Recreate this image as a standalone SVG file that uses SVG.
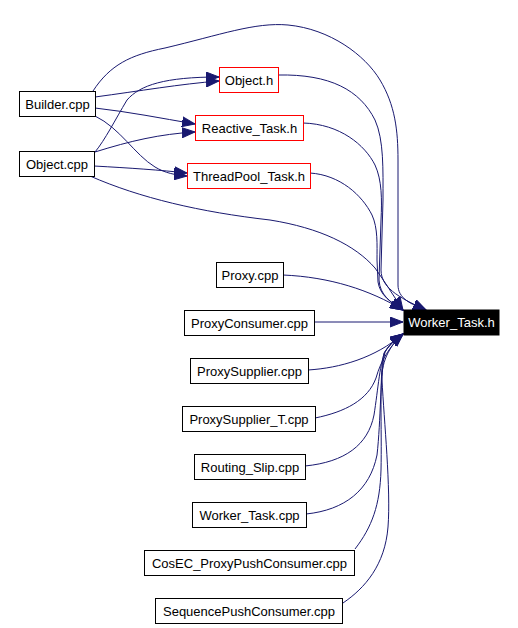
<svg xmlns="http://www.w3.org/2000/svg" width="518" height="628" viewBox="0 0 518 628">
<style>
  .n rect { fill: #ffffff; stroke: #000000; stroke-width: 1; }
  .n.red rect { stroke: #ff0000; }
  .n text { font-family: "Liberation Sans", Arial, sans-serif; font-size: 13px; fill: #000000; text-anchor: middle; }
  .n.main rect { fill: #000000; stroke: #000000; }
  .n.main text { fill: #ffffff; }
  .e path { fill: none; stroke: #191970; stroke-width: 1; marker-end: url(#arr); }
</style>
<defs>
  <marker id="arr" markerUnits="userSpaceOnUse" markerWidth="14" markerHeight="11" refX="13" refY="5" orient="auto" viewBox="0 0 14 10">
    <path d="M0,0 L13,5 L0,10 z" fill="#191970" stroke="#191970" stroke-width="1"/>
  </marker>
</defs>
<rect x="0" y="0" width="518" height="628" fill="#ffffff"/>
<g id="edges" class="e">
  <path d="M95,97 C140,91 180,84 219,81"/>
  <path d="M95,108 C130,112 160,118 195,124"/>
  <path d="M95,116 C120,128 135,155 155,167 C165,173 175,175 187,176"/>
  <path d="M93,91 C110,65 130,55 165,48 C220,35 255,22 288,25 C330,29 365,55 380,80 C395,105 398,130 398,160 L398,285 C398,298 410,304 426,310"/>
  <path d="M95,152 C105,140 115,120 127,100 C140,85 165,77 219,77"/>
  <path d="M95,152 C130,141 160,134 195,132"/>
  <path d="M94,166 C130,168 160,170 187,173"/>
  <path d="M90,176 C140,198 200,212 270,220 C320,228 355,245 375,268 C385,282 393,295 403,310"/>
  <path d="M278,75 C330,74 360,90 375,120 C384,140 383,170 383,200 L381,270 C381,290 405,300 426,310"/>
  <path d="M303,123 C340,124 365,145 375,165 C382,180 382,200 381,220 L379,280 C380,295 390,302 403,310"/>
  <path d="M310,173 C340,175 362,195 372,215 C378,228 377,245 377,260 L378,282 C380,295 390,302 403,310"/>
  <path d="M283,275 C330,277 370,290 403,310"/>
  <path d="M314,322 L403,322"/>
  <path d="M308,370 C340,368 375,358 403,334"/>
  <path d="M315,418 C345,412 368,400 376,378 C381,360 390,346 403,334"/>
  <path d="M305,466 C345,462 368,445 374,415 C378,390 380,360 386,350 C391,343 396,339 403,334"/>
  <path d="M306,514 C345,510 370,490 377,455 C381,420 380,375 385,352 C390,344 396,339 403,334"/>
  <path d="M355,549 C372,527 380,505 381,470 C382,430 379,375 384,353 C389,345 396,339 403,334"/>
  <path d="M343,603 C365,588 385,565 388,527 C391,490 384,420 382,380 C381,360 392,343 403,334"/>
</g>
<g id="node-builder" class="n"><rect x="19.5" y="91.5" width="76" height="25"/><text x="57.5" y="108.5">Builder.cpp</text></g>
<g id="node-objectcpp" class="n"><rect x="19.5" y="151.5" width="75" height="25"/><text x="57" y="168.5">Object.cpp</text></g>
<g id="node-objecth" class="n red"><rect x="219.5" y="67.5" width="59" height="25"/><text x="249" y="84.5">Object.h</text></g>
<g id="node-reactive" class="n red"><rect x="195.5" y="115.5" width="108" height="25"/><text x="249.5" y="132.5">Reactive_Task.h</text></g>
<g id="node-threadpool" class="n red"><rect x="187.5" y="163.5" width="123" height="25"/><text x="249" y="180.5">ThreadPool_Task.h</text></g>
<g id="node-proxy" class="n"><rect x="216.5" y="262.5" width="67" height="25"/><text x="250" y="279.5">Proxy.cpp</text></g>
<g id="node-proxyconsumer" class="n"><rect x="184.5" y="310.5" width="130" height="25"/><text x="249.5" y="327.5">ProxyConsumer.cpp</text></g>
<g id="node-proxysupplier" class="n"><rect x="190.5" y="358.5" width="118" height="25"/><text x="249.5" y="375.5">ProxySupplier.cpp</text></g>
<g id="node-proxysuppliert" class="n"><rect x="182.5" y="406.5" width="133" height="25"/><text x="249" y="423.5">ProxySupplier_T.cpp</text></g>
<g id="node-routingslip" class="n"><rect x="194.5" y="454.5" width="111" height="25"/><text x="250" y="471.5">Routing_Slip.cpp</text></g>
<g id="node-workertaskcpp" class="n"><rect x="192.5" y="502.5" width="114" height="25"/><text x="249.5" y="519.5">Worker_Task.cpp</text></g>
<g id="node-cosec" class="n"><rect x="144.5" y="550.5" width="210" height="25"/><text x="249.5" y="567.5">CosEC_ProxyPushConsumer.cpp</text></g>
<g id="node-seqpush" class="n"><rect x="155.5" y="598.5" width="187" height="25"/><text x="249" y="615.5">SequencePushConsumer.cpp</text></g>
<g id="node-workertaskh" class="n main"><rect x="404" y="310" width="95" height="25"/><text x="451.5" y="327">Worker_Task.h</text></g>
</svg>
